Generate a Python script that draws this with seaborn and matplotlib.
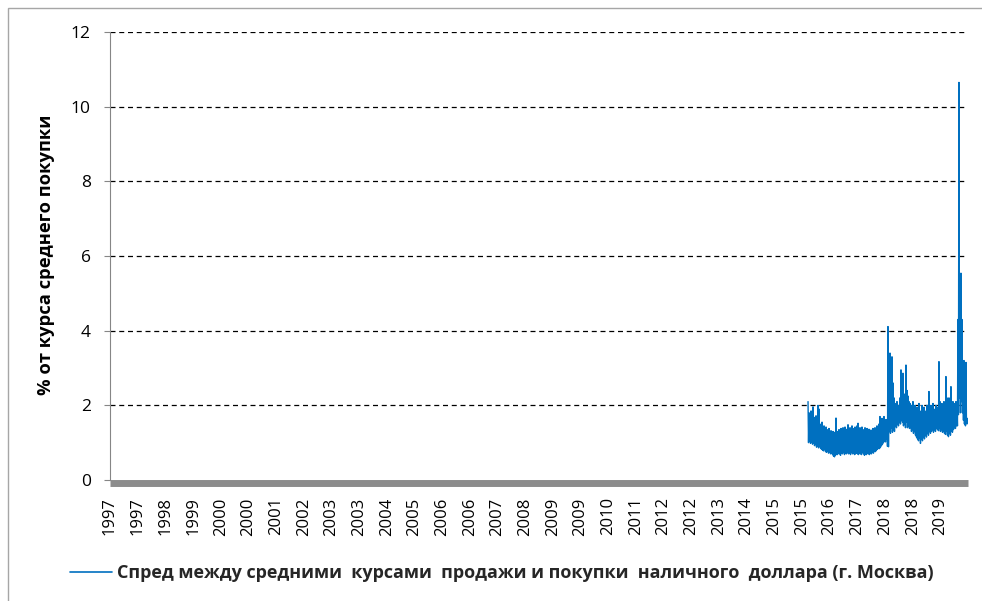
import numpy as np
import pandas as pd
import matplotlib
matplotlib.use("Agg")
import matplotlib.pyplot as plt
import seaborn as sns
from matplotlib.patches import Rectangle

# ---------------- data ----------------
tick_labels = ["1997", "1997", "1998", "1999", "2000", "2000", "2001", "2002",
               "2003", "2003", "2004", "2005", "2006", "2006", "2007", "2008",
               "2009", "2009", "2010", "2011", "2012", "2012", "2013", "2014",
               "2015", "2015", "2016", "2017", "2018", "2018", "2019"]
y_ticks = [0, 2, 4, 6, 8, 10, 12]
series_name = "Спред между средними  курсами  продажи и покупки  наличного  доллара (г. Москва)"
y_label = "% от курса среднего покупки"

# category-slot span covered by the observations
series_first_slot = 25.22
series_last_slot = 30.98

spread_values = [
    2.10, 1.00, 1.80, 1.05, 1.70, 0.98, 1.85, 1.02, 1.62, 0.96, 1.96, 1.00, 1.68, 0.92, 1.55, 0.95, 1.72, 0.88, 1.50, 0.92,
    2.00, 0.86, 1.90, 0.90, 1.50, 0.85, 1.40, 0.82, 1.55, 0.80, 1.38, 0.78, 1.45, 0.82, 1.30, 0.76, 1.42, 0.74, 1.35, 0.78,
    1.28, 0.72, 1.38, 0.75, 1.25, 0.70, 1.32, 0.72, 1.22, 0.68, 1.30, 0.64, 1.20, 0.62, 1.28, 0.66, 1.66, 0.70, 1.30, 0.68,
    1.22, 0.72, 1.35, 0.70, 1.25, 0.66, 1.38, 0.72, 1.28, 0.70, 1.40, 0.74, 1.30, 0.68, 1.42, 0.72, 1.32, 0.70, 1.36, 0.74,
    1.48, 0.70, 1.30, 0.72, 1.40, 0.68, 1.35, 0.74, 1.45, 0.70, 1.32, 0.72, 1.38, 0.68, 1.42, 0.70, 1.30, 0.72, 1.45, 0.70,
    1.52, 0.68, 1.38, 0.72, 1.40, 0.70, 1.30, 0.68, 1.42, 0.74, 1.35, 0.70, 1.28, 0.66, 1.40, 0.70, 1.32, 0.68, 1.38, 0.72,
    1.30, 0.70, 1.36, 0.68, 1.25, 0.72, 1.34, 0.70, 1.28, 0.74, 1.38, 0.72, 1.30, 0.78, 1.40, 0.76, 1.35, 0.80, 1.45, 0.82,
    1.38, 0.86, 1.50, 0.84, 1.70, 0.88, 1.55, 0.92, 1.65, 0.96, 1.50, 1.00, 1.70, 1.05, 1.55, 1.02, 1.62, 1.10, 1.58, 0.90,
    4.11, 0.89, 3.35, 1.30, 3.40, 1.25, 3.20, 1.40, 3.30, 1.28, 2.60, 1.35, 2.20, 1.30, 2.05, 1.45, 1.95, 1.40, 2.10, 1.50,
    1.90, 1.45, 2.00, 1.55, 2.20, 1.50, 2.95, 1.60, 2.50, 1.55, 2.86, 1.45, 2.30, 1.50, 2.30, 1.40, 3.08, 1.55, 2.40, 1.40,
    2.25, 1.45, 2.10, 1.38, 2.05, 1.40, 2.00, 1.30, 1.95, 1.35, 2.10, 1.25, 1.90, 1.30, 2.00, 1.20, 1.85, 1.15, 1.95, 1.10,
    1.80, 1.05, 2.05, 1.12, 1.85, 0.98, 1.75, 1.10, 2.00, 1.05, 1.80, 1.15, 1.95, 1.10, 1.85, 1.20, 1.75, 1.15, 2.00, 1.25,
    1.90, 1.20, 2.37, 1.30, 1.95, 1.25, 2.00, 1.30, 1.85, 1.35, 2.05, 1.28, 1.90, 1.35, 1.80, 1.30, 2.00, 1.40, 1.95, 1.35,
    1.85, 1.32, 3.17, 1.38, 2.10, 1.30, 1.90, 1.35, 2.05, 1.28, 1.95, 1.30, 2.10, 1.25, 1.85, 1.22, 2.77, 1.30, 2.20, 1.20,
    1.95, 1.16, 2.20, 1.25, 2.00, 1.20, 2.50, 1.30, 1.95, 1.28, 2.10, 1.35, 1.95, 1.40, 2.05, 1.38, 2.10, 1.45, 2.00, 1.45,
    4.30, 1.75, 10.65, 2.20, 4.40, 1.80, 5.54, 2.10, 4.30, 1.80, 3.00, 1.60, 3.20, 1.50, 2.50, 1.45, 3.15, 1.55, 1.50, 1.65,
]

# ---------------- style ----------------
sns.set_theme(style="white")
plt.rcParams["font.family"] = ["Open Sans", "DejaVu Sans"]

W, H = 982, 601
fig = plt.figure(figsize=(W / 100, H / 100), dpi=100)
fig.patch.set_facecolor("white")
ax = fig.add_axes([110 / W, 1 - 480 / H, 858 / W, 448 / H])

df = pd.DataFrame({
    "slot": np.linspace(series_first_slot, series_last_slot, len(spread_values)),
    "value": spread_values,
})
sns.lineplot(data=df, x="slot", y="value", ax=ax, color="#0070C0",
             linewidth=1.0, estimator=None, sort=False, label=series_name)

ax.set_xlim(0, len(tick_labels))
ax.set_ylim(0, 12)
ax.set_yticks(y_ticks)
ax.set_yticklabels([str(v) for v in y_ticks])
ax.set_xticks(range(len(tick_labels)))
ax.set_xticklabels(tick_labels)
ax.set_xlabel("")
ax.set_ylabel("")

ax.yaxis.grid(True, color="black", linestyle=(0, (4, 3)), linewidth=0.9)
ax.xaxis.grid(False)
ax.get_ygridlines()[0].set_visible(False)

for s in ["top", "right"]:
    ax.spines[s].set_visible(False)
ax.spines["left"].set_color("#868686")
ax.spines["left"].set_linewidth(0.8)
ax.spines["bottom"].set_color("#8c8c8c")
ax.spines["bottom"].set_linewidth(5)
ax.spines["bottom"].set_position(("outward", 2.5))
ax.spines["bottom"].set_capstyle("butt")

ax.tick_params(axis="x", length=0, pad=10, labelsize=12, labelcolor="black",
               labelrotation=90)
ax.tick_params(axis="y", length=4.3, width=0.8, color="#868686", pad=9.5,
               labelsize=12.5, labelcolor="black", left=True)

fig.text(46 / W, 1 - 255 / H, y_label, rotation=90, ha="center", va="center",
         fontsize=13.2, fontweight="bold", color="black")

leg = ax.legend(loc="center left", bbox_to_anchor=(70 / W, 1 - 573 / H),
                bbox_transform=fig.transFigure, frameon=False,
                handlelength=2.3, handletextpad=0.3, borderpad=0, borderaxespad=0,
                prop={"size": 13, "weight": "bold", "family": ["Open Sans", "DejaVu Sans"]})
for line in leg.get_lines():
    line.set_linewidth(1.2)

fig.patches.append(Rectangle((8 / W, -0.05), 1.2, 1 - 8 / H + 0.05,
                             transform=fig.transFigure, fill=False,
                             edgecolor="#a6a6a6", linewidth=1))

fig.savefig("out.png", dpi=100)
